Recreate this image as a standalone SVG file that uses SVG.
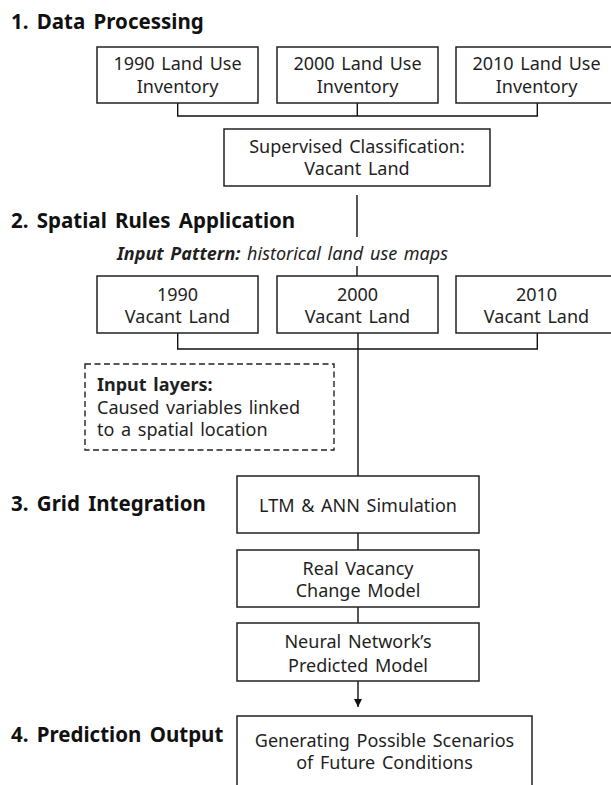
<svg xmlns="http://www.w3.org/2000/svg" width="611" height="785" viewBox="0 0 611 785">
  <defs>
    <marker id="arrow" viewBox="0 0 10 10" refX="10" refY="5" markerWidth="8" markerHeight="10" markerUnits="userSpaceOnUse" orient="auto">
      <path d="M0,0 L10,5 L0,10 z" fill="#111"/>
    </marker>
  </defs>
  <style>
    .box { fill: #fff; stroke: #222; stroke-width: 1.5; }
    .dash { fill: none; stroke: #222; stroke-width: 1.4; stroke-dasharray: 6 3.5; }
    .lbl { font-family: "Noto Sans", "Open Sans", sans-serif; font-size: 18px; fill: #1f1f1f; text-anchor: middle; word-spacing: 2px; }
    .note { font-family: "Noto Sans", "Open Sans", sans-serif; font-size: 18px; fill: #1f1f1f; word-spacing: 2px; }
    .title { font-family: "Noto Sans", "Open Sans", sans-serif; font-size: 20.5px; font-weight: bold; fill: #111; word-spacing: 3px; }
    .conn { fill: none; stroke: #111; stroke-width: 1.4; }
  </style>

  <rect width="611" height="785" fill="#fff"/>

  <!-- section headings -->
  <g id="headings">
    <text class="title" x="11" y="29">1. Data Processing</text>
    <text class="title" x="11" y="228">2. Spatial Rules Application</text>
    <text class="title" x="11" y="511">3. Grid Integration</text>
    <text class="title" x="11" y="742">4. Prediction Output</text>
  </g>

  <!-- connectors -->
  <g id="connectors">
    <path class="conn" d="M177.7,103 V116 H537.3 V103 M357.3,103 V116"/>
    <path class="conn" d="M357,195 V237 M357,266 V276"/>
    <path class="conn" d="M177.7,333 V349 H537.3 V333 M358,333 V476"/>
    <path class="conn" d="M358,533 V550 M358,607 V623"/>
    <path class="conn" d="M358,681 V707" marker-end="url(#arrow)"/>
  </g>

  <g id="lu1990">
    <rect class="box" x="97" y="47" width="161" height="56"/>
    <text class="lbl" x="177.5" y="70">1990 Land Use</text>
    <text class="lbl" x="177.5" y="93">Inventory</text>
  </g>
  <g id="lu2000">
    <rect class="box" x="277" y="47" width="161" height="56"/>
    <text class="lbl" x="357.5" y="70">2000 Land Use</text>
    <text class="lbl" x="357.5" y="93">Inventory</text>
  </g>
  <g id="lu2010">
    <rect class="box" x="456" y="47" width="161" height="56"/>
    <text class="lbl" x="536.5" y="70">2010 Land Use</text>
    <text class="lbl" x="536.5" y="93">Inventory</text>
  </g>

  <g id="classification">
    <rect class="box" x="224" y="129" width="266" height="57"/>
    <text class="lbl" x="357" y="153">Supervised Classification:</text>
    <text class="lbl" x="357" y="175">Vacant Land</text>
  </g>

  <g id="input-pattern">
    <text class="note" x="448" y="260" text-anchor="end" font-size="17.5" font-style="italic" word-spacing="3"><tspan font-weight="bold">Input Pattern:</tspan> historical land use maps</text>
  </g>

  <g id="vl1990">
    <rect class="box" x="97" y="276" width="161" height="57"/>
    <text class="lbl" x="177.5" y="300.5">1990</text>
    <text class="lbl" x="177.5" y="323">Vacant Land</text>
  </g>
  <g id="vl2000">
    <rect class="box" x="277" y="276" width="161" height="57"/>
    <text class="lbl" x="357.5" y="300.5">2000</text>
    <text class="lbl" x="357.5" y="323">Vacant Land</text>
  </g>
  <g id="vl2010">
    <rect class="box" x="456" y="276" width="161" height="57"/>
    <text class="lbl" x="536.5" y="300.5">2010</text>
    <text class="lbl" x="536.5" y="323">Vacant Land</text>
  </g>

  <g id="input-layers">
    <rect class="dash" x="85" y="364" width="249" height="86"/>
    <text class="note" x="97" y="391" font-weight="bold">Input layers:</text>
    <text class="note" x="97" y="413.5">Caused variables linked</text>
    <text class="note" x="97" y="436">to a spatial location</text>
  </g>

  <g id="simulation">
    <rect class="box" x="237" y="476" width="242" height="57"/>
    <text class="lbl" x="358" y="512">LTM &amp; ANN Simulation</text>
  </g>
  <g id="real-change">
    <rect class="box" x="237" y="550" width="242" height="57"/>
    <text class="lbl" x="358" y="575">Real Vacancy</text>
    <text class="lbl" x="358" y="597">Change Model</text>
  </g>
  <g id="predicted">
    <rect class="box" x="237" y="623" width="242" height="58"/>
    <text class="lbl" x="358" y="648">Neural Network’s</text>
    <text class="lbl" x="358" y="671.5">Predicted Model</text>
  </g>
  <g id="scenarios">
    <rect class="box" x="237" y="716" width="295" height="80"/>
    <text class="lbl" x="384.5" y="746.5">Generating Possible Scenarios</text>
    <text class="lbl" x="384.5" y="768.5">of Future Conditions</text>
  </g>
</svg>
